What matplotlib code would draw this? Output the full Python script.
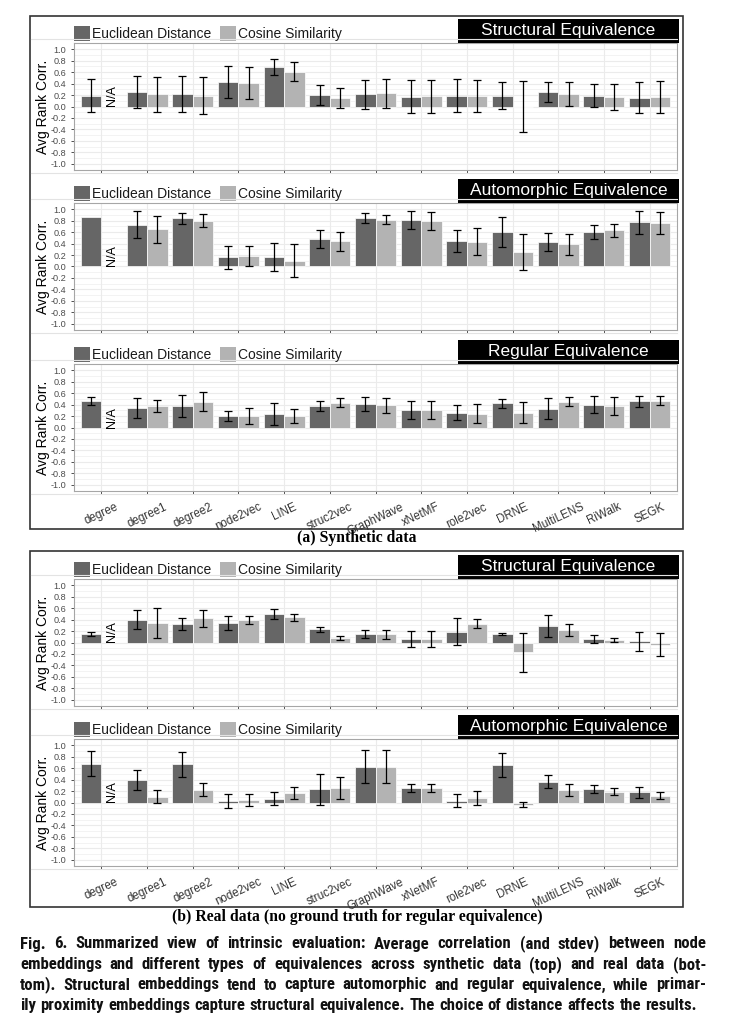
import numpy as np
import matplotlib
matplotlib.use('Agg')
import matplotlib.pyplot as plt
from matplotlib.patches import Rectangle
from matplotlib.lines import Line2D

plt.rcParams['font.family'] = ['Liberation Sans', 'DejaVu Sans']

nan = np.nan
methods = ['degree', 'degree1', 'degree2', 'node2vec', 'LINE', 'struc2vec', 'GraphWave',
           'xNetMF', 'role2vec', 'DRNE', 'MultiLENS', 'RiWalk', 'SEGK']
series_names = ['Euclidean Distance', 'Cosine Similarity']
yticks = [1.0, 0.8, 0.6, 0.4, 0.2, 0.0, -0.2, -0.4, -0.6, -0.8, -1.0]

# synthetic data, structural equivalence
syn_struct_euc = [0.19, 0.26, 0.22, 0.42, 0.69, 0.20, 0.21, 0.17, 0.19, 0.19, 0.25, 0.19, 0.15]
syn_struct_euc_sd = [0.29, 0.28, 0.31, 0.28, 0.14, 0.18, 0.26, 0.29, 0.29, 0.24, 0.17, 0.20, 0.27]
syn_struct_cos = [nan, 0.21, 0.19, 0.41, 0.61, 0.15, 0.23, 0.18, 0.18, 0.0, 0.22, 0.17, 0.16]
syn_struct_cos_sd = [nan, 0.30, 0.32, 0.28, 0.17, 0.18, 0.25, 0.29, 0.28, 0.445, 0.21, 0.23, 0.28]

# synthetic data, automorphic equivalence
syn_auto_euc = [0.86, 0.73, 0.84, 0.16, 0.17, 0.48, 0.85, 0.81, 0.45, 0.60, 0.43, 0.60, 0.77]
syn_auto_euc_sd = [nan, 0.24, 0.095, 0.20, 0.245, 0.165, 0.085, 0.16, 0.19, 0.265, 0.155, 0.12, 0.195]
syn_auto_cos = [nan, 0.65, 0.80, 0.18, 0.10, 0.44, 0.82, 0.80, 0.43, 0.25, 0.385, 0.63, 0.76]
syn_auto_cos_sd = [nan, 0.24, 0.11, 0.18, 0.29, 0.165, 0.08, 0.155, 0.235, 0.315, 0.185, 0.12, 0.195]

# synthetic data, regular equivalence
syn_reg_euc = [0.46, 0.34, 0.38, 0.20, 0.23, 0.38, 0.41, 0.30, 0.26, 0.42, 0.33, 0.40, 0.46]
syn_reg_euc_sd = [0.075, 0.18, 0.19, 0.095, 0.195, 0.09, 0.125, 0.155, 0.125, 0.075, 0.185, 0.155, 0.095]
syn_reg_cos = [nan, 0.38, 0.45, 0.20, 0.20, 0.43, 0.39, 0.30, 0.24, 0.26, 0.45, 0.37, 0.47]
syn_reg_cos_sd = [nan, 0.105, 0.17, 0.145, 0.13, 0.08, 0.13, 0.16, 0.17, 0.19, 0.08, 0.16, 0.085]

# real data, structural equivalence
real_struct_euc = [0.15, 0.40, 0.32, 0.34, 0.50, 0.23, 0.15, 0.06, 0.19, 0.145, 0.285, 0.065, 0.02]
real_struct_euc_sd = [0.03, 0.165, 0.10, 0.12, 0.085, 0.04, 0.075, 0.14, 0.235, 0.02, 0.19, 0.07, 0.16]
real_struct_cos = [nan, 0.34, 0.42, 0.39, 0.44, 0.08, 0.14, 0.06, 0.33, -0.17, 0.215, 0.04, -0.035]
real_struct_cos_sd = [nan, 0.27, 0.145, 0.075, 0.06, 0.03, 0.075, 0.14, 0.08, 0.34, 0.105, 0.03, 0.205]

# real data, automorphic equivalence
real_auto_euc = [0.68, 0.39, 0.665, 0.025, 0.065, 0.23, 0.625, 0.255, 0.03, 0.66, 0.365, 0.23, 0.175]
real_auto_euc_sd = [0.215, 0.17, 0.22, 0.12, 0.115, 0.265, 0.29, 0.068, 0.11, 0.21, 0.12, 0.07, 0.09]
real_auto_cos = [nan, 0.10, 0.225, 0.045, 0.17, 0.255, 0.625, 0.255, 0.08, -0.035, 0.22, 0.19, 0.12]
real_auto_cos_sd = [nan, 0.115, 0.11, 0.11, 0.105, 0.195, 0.29, 0.068, 0.125, 0.045, 0.10, 0.055, 0.055]

caption_lines = [
    'Fig. 6.  Summarized view of intrinsic evaluation: Average correlation (and stdev) between node',
    'embeddings and different types of equivalences across synthetic data (top) and real data (bot-',
    'tom). Structural embeddings tend to capture automorphic and regular equivalence, while primar-',
    'ily proximity embeddings capture structural equivalence. The choice of distance affects the results.',
]

W, H = 738, 1023
fig = plt.figure(figsize=(W / 100, H / 100), dpi=100)

EUC_COL = '#666666'
COS_COL = '#b3b3b3'
CAP_FONT = ['Roboto Condensed', 'Roboto', 'DejaVu Sans']


def fx(px):
    return px / W


def fy(py):
    return 1 - py / H


def draw_panel(top_px, title, euc, euc_sd, cos, cos_sd, show_labels):
    left, right, h = 74, 677, 127
    ax = fig.add_axes([fx(left), fy(top_px + h), (right - left) / W, h / H])
    x = np.arange(len(methods))
    euc, euc_sd, cos, cos_sd = map(np.array, (euc, euc_sd, cos, cos_sd))

    m1 = ~np.isnan(euc)
    m2 = ~np.isnan(cos)
    ax.bar(x[m1] - 0.225, euc[m1], 0.45, color=EUC_COL, edgecolor='white', linewidth=0.5, zorder=2)
    ax.bar(x[m2] + 0.225, cos[m2], 0.45, color=COS_COL, edgecolor='white', linewidth=0.5, zorder=2)
    e1 = ~np.isnan(euc_sd)
    e2 = ~np.isnan(cos_sd)
    ax.errorbar(x[e1] - 0.225, euc[e1], yerr=euc_sd[e1], fmt='none', ecolor='black',
                elinewidth=0.9, capsize=3.1, capthick=0.9, zorder=3)
    ax.errorbar(x[e2] + 0.225, cos[e2], yerr=cos_sd[e2], fmt='none', ecolor='black',
                elinewidth=0.9, capsize=3.1, capthick=0.9, zorder=3)
    for i in np.where(~m2)[0]:
        ax.text(i + 0.225, 0.0, 'N/A', rotation=90, ha='center', va='bottom', fontsize=9, color='black')

    ax.set_xlim(-0.6, 12.6)
    ax.set_ylim(-1.11, 1.11)
    ax.set_yticks(yticks)
    ax.set_yticklabels(['%.1f' % v for v in yticks])
    ax.set_yticks(np.arange(-0.9, 1.0, 0.2), minor=True)
    ax.set_xticks(x)
    if show_labels:
        ax.set_xticklabels(methods, rotation=25, ha='center', va='top', fontsize=8.3, color='#333333')
    else:
        ax.set_xticklabels([])
    ax.tick_params(axis='both', which='major', length=2.2, width=0.6, color='#333333', pad=3.6)
    ax.tick_params(axis='y', labelsize=6.6, labelcolor='#4d4d4d')
    ax.tick_params(axis='x', pad=5)
    ax.tick_params(axis='y', which='minor', length=0)
    ax.set_axisbelow(True)
    ax.grid(which='major', color='#ebebeb', linewidth=0.8, zorder=0)
    ax.grid(which='minor', axis='y', color='#ebebeb', linewidth=0.4, zorder=0)
    for s in ax.spines.values():
        s.set_color('#a6a6a6')
        s.set_linewidth(0.8)

    fig.text(fx(42.7), fy(top_px + h / 2), 'Avg Rank Corr.', rotation=90, ha='center', va='center', fontsize=10)

    # facet strip
    ax.add_patch(Rectangle(((458 - left) / (right - left), 1.0), (679 - 458) / (right - left), 24 / h,
                           transform=ax.transAxes, facecolor='black', edgecolor='none', clip_on=False, zorder=5))
    ax.text(((458 + 679) / 2 - left) / (right - left), 1 + 12.5 / h, title, transform=ax.transAxes,
            ha='center', va='center', color='white', fontsize=12.5, zorder=6)

    # legend above the panel
    for kx, tx, col, name in ((74.3, 92.3, EUC_COL, series_names[0]), (220.3, 237.7, COS_COL, series_names[1])):
        fig.add_artist(Rectangle((fx(kx), fy(top_px - 2.3)), 15.3 / W, 15 / H, transform=fig.transFigure,
                                 facecolor=col, edgecolor='none'))
        fig.text(fx(tx), fy(top_px - 5), name, ha='left', va='baseline', fontsize=10, color='#1a1a1a')

    # faint separator lines around each panel image
    for yy in (top_px - 4, top_px + h + 3):
        fig.add_artist(Line2D([fx(31), fx(677)], [fy(yy), fy(yy)], color='#e3e3e3', linewidth=0.8))
    return ax


draw_panel(43, 'Structural Equivalence', syn_struct_euc, syn_struct_euc_sd, syn_struct_cos, syn_struct_cos_sd, False)
draw_panel(203, 'Automorphic Equivalence', syn_auto_euc, syn_auto_euc_sd, syn_auto_cos, syn_auto_cos_sd, False)
draw_panel(364, 'Regular Equivalence', syn_reg_euc, syn_reg_euc_sd, syn_reg_cos, syn_reg_cos_sd, True)
draw_panel(579, 'Structural Equivalence', real_struct_euc, real_struct_euc_sd, real_struct_cos, real_struct_cos_sd, False)
draw_panel(739, 'Automorphic Equivalence', real_auto_euc, real_auto_euc_sd, real_auto_cos, real_auto_cos_sd, True)

# group boxes
for (t, b) in ((16, 529), (551, 907)):
    fig.add_artist(Rectangle((fx(30), fy(b)), fx(683) - fx(30), fy(t) - fy(b), transform=fig.transFigure,
                             facecolor='none', edgecolor='#333333', linewidth=1.2))

fig.text(fx(357), fy(538), '(a) Synthetic data', ha='center', va='center', fontsize=11.3,
         fontweight='bold', family='Liberation Serif')
fig.text(fx(357), fy(917), '(b) Real data (no ground truth for regular equivalence)', ha='center',
         va='center', fontsize=11.3, fontweight='bold', family='Liberation Serif')

# justified caption
renderer = fig.canvas.get_renderer()
cap_y = [944, 964.5, 985, 1005.5]
cap_right = [706, 706, 706, 697]
cap_left = 20
base = 10
max_ratio = 0
for line, r in zip(caption_lines, cap_right):
    t = fig.text(0, 0, line, fontsize=base, fontweight='bold', family=CAP_FONT)
    wpx = t.get_window_extent(renderer).width
    t.remove()
    max_ratio = max(max_ratio, wpx / (r - cap_left))
cap_size = base / max_ratio * 0.99
for line, yy, r in zip(caption_lines, cap_y, cap_right):
    words = line.split()
    texts = [fig.text(0, fy(yy), wd, fontsize=cap_size, fontweight='bold', family=CAP_FONT,
                      va='center', ha='left', color='#111111') for wd in words]
    widths = [tt.get_window_extent(renderer).width for tt in texts]
    gap = (r - cap_left - sum(widths)) / (len(words) - 1)
    xx = cap_left
    for tt, wd in zip(texts, widths):
        tt.set_x(fx(xx))
        xx += wd + gap

fig.savefig('out.png', dpi=100)
